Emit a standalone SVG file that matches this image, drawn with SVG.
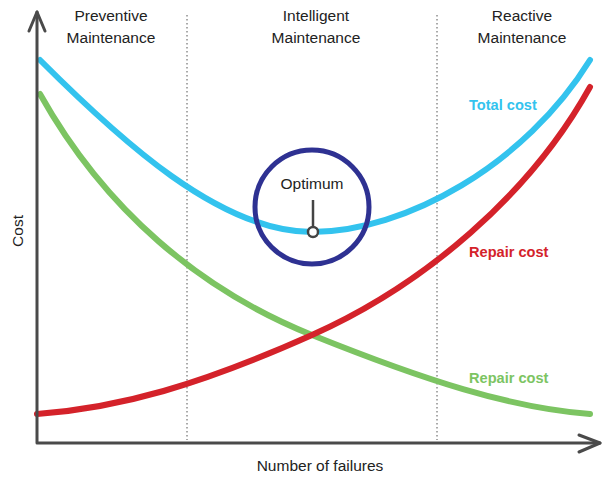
<svg xmlns="http://www.w3.org/2000/svg" width="606" height="477" viewBox="0 0 606 477">
<style>
.t{font-family:"Liberation Sans",Arial,sans-serif;font-size:15.5px;fill:#222}
.lbl{font-family:"Liberation Sans",Arial,sans-serif;font-size:14.6px;font-weight:bold}
.curve{fill:none;stroke-width:6;stroke-linecap:round}
.axis{fill:none;stroke:#4a4a4a;stroke-width:3;stroke-linecap:round;stroke-linejoin:round}
.div{stroke:#555;stroke-width:1;stroke-dasharray:1.5 2.5}
</style>
<rect width="606" height="477" fill="#fff"/>
<g id="dividers">
<line class="div" x1="187" y1="15" x2="187" y2="440"/>
<line class="div" x1="437" y1="15" x2="437" y2="440"/>
</g>
<g id="headers">
<text class="t" x="111" y="21" text-anchor="middle">Preventive</text>
<text class="t" x="111" y="43" text-anchor="middle">Maintenance</text>
<text class="t" x="316" y="21" text-anchor="middle">Intelligent</text>
<text class="t" x="316" y="43" text-anchor="middle">Maintenance</text>
<text class="t" x="522" y="21" text-anchor="middle">Reactive</text>
<text class="t" x="522" y="43" text-anchor="middle">Maintenance</text>
</g>
<g id="connectors">
<path id="green" class="curve" stroke="#7cc462" d="M40,94 C105,210 200,290 312,335 S510,408 590,414"/>
<path id="red" class="curve" stroke="#d4222a" d="M37,414 C120,408 200,385 312,335 C424,285 530,195 590,87"/>
<path id="blue" class="curve" stroke="#33c3ee" d="M40,60 C120,140 220,232 312,232 C405,232 525,165 590,60"/>
</g>
<g id="axes">
<polyline class="axis" points="37,12 37,443 600,443"/>
<polyline class="axis" points="29,31 37,12 45,31"/>
<polyline class="axis" points="579,435 600,443 579,452"/>
<text class="t" x="23" y="231" text-anchor="middle" transform="rotate(-90 23 231)">Cost</text>
<text class="t" x="320" y="471" text-anchor="middle">Number of failures</text>
</g>
<g id="optimum">
<circle cx="312" cy="207" r="57" fill="none" stroke="#2e3192" stroke-width="5"/>
<line x1="313" y1="200" x2="313" y2="227" stroke="#444" stroke-width="2.5"/>
<circle cx="313" cy="232" r="5" fill="#fff" stroke="#444" stroke-width="2.5"/>
<text class="t" x="312" y="189" text-anchor="middle">Optimum</text>
</g>
<g id="labels">
<text class="lbl" x="469" y="110" fill="#33c3ee">Total cost</text>
<text class="lbl" x="469" y="257" fill="#d4222a">Repair cost</text>
<text class="lbl" x="469" y="383" fill="#7cc462">Repair cost</text>
</g>
</svg>
